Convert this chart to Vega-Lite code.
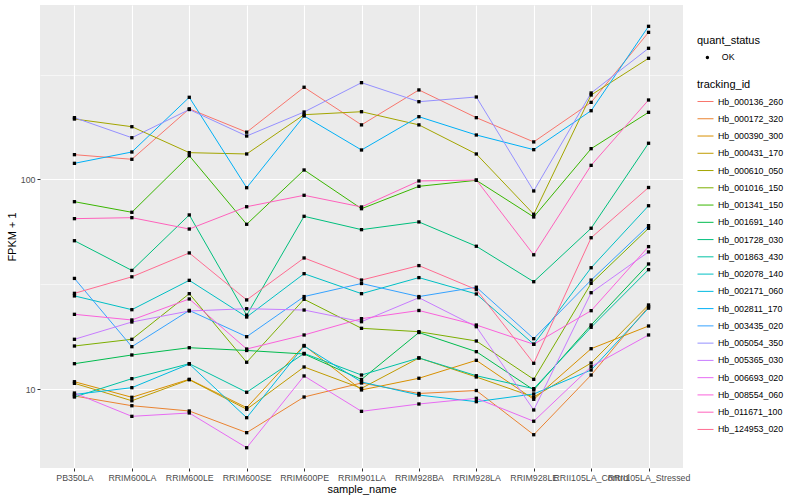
{
  "$schema": "https://vega.github.io/schema/vega-lite/v6.json",
  "width": 643,
  "height": 463,
  "autosize": {"type": "none"},
  "padding": {"left": 40, "top": 5, "right": 117, "bottom": 32},
  "background": "white",
  "config": {
    "view": {"fill": "#EBEBEB", "stroke": null},
    "font": "Liberation Sans",
    "axis": {
      "domain": false,
      "gridColor": "white",
      "tickColor": "#333333",
      "tickSize": 3,
      "tickWidth": 1,
      "labelColor": "#4D4D4D",
      "labelFontSize": 8.8,
      "labelFont": "Liberation Sans",
      "titleFont": "Liberation Sans",
      "titleFontSize": 11,
      "titleFontWeight": "normal",
      "titleColor": "black"
    },
    "legend": {
      "titleFont": "Liberation Sans",
      "titleFontSize": 11,
      "titleFontWeight": "normal",
      "titleColor": "black",
      "labelFont": "Liberation Sans",
      "labelFontSize": 8.8,
      "labelColor": "black"
    }
  },
  "data": {"values": [
    {"tracking_id":"Hb_000136_260","sample_name":"PB350LA","fpkm":131.3,"quant_status":"OK"},
    {"tracking_id":"Hb_000136_260","sample_name":"RRIM600LA","fpkm":124.8,"quant_status":"OK"},
    {"tracking_id":"Hb_000136_260","sample_name":"RRIM600LE","fpkm":217,"quant_status":"OK"},
    {"tracking_id":"Hb_000136_260","sample_name":"RRIM600SE","fpkm":168,"quant_status":"OK"},
    {"tracking_id":"Hb_000136_260","sample_name":"RRIM600PE","fpkm":275,"quant_status":"OK"},
    {"tracking_id":"Hb_000136_260","sample_name":"RRIM901LA","fpkm":182,"quant_status":"OK"},
    {"tracking_id":"Hb_000136_260","sample_name":"RRIM928BA","fpkm":267,"quant_status":"OK"},
    {"tracking_id":"Hb_000136_260","sample_name":"RRIM928LA","fpkm":197,"quant_status":"OK"},
    {"tracking_id":"Hb_000136_260","sample_name":"RRIM928LE","fpkm":151,"quant_status":"OK"},
    {"tracking_id":"Hb_000136_260","sample_name":"RRII105LA_Control","fpkm":233,"quant_status":"OK"},
    {"tracking_id":"Hb_000136_260","sample_name":"RRII105LA_Stressed","fpkm":502,"quant_status":"OK"},
    {"tracking_id":"Hb_000172_320","sample_name":"PB350LA","fpkm":9.31,"quant_status":"OK"},
    {"tracking_id":"Hb_000172_320","sample_name":"RRIM600LA","fpkm":8.37,"quant_status":"OK"},
    {"tracking_id":"Hb_000172_320","sample_name":"RRIM600LE","fpkm":7.9,"quant_status":"OK"},
    {"tracking_id":"Hb_000172_320","sample_name":"RRIM600SE","fpkm":6.23,"quant_status":"OK"},
    {"tracking_id":"Hb_000172_320","sample_name":"RRIM600PE","fpkm":9.21,"quant_status":"OK"},
    {"tracking_id":"Hb_000172_320","sample_name":"RRIM901LA","fpkm":10.74,"quant_status":"OK"},
    {"tracking_id":"Hb_000172_320","sample_name":"RRIM928BA","fpkm":9.57,"quant_status":"OK"},
    {"tracking_id":"Hb_000172_320","sample_name":"RRIM928LA","fpkm":9.89,"quant_status":"OK"},
    {"tracking_id":"Hb_000172_320","sample_name":"RRIM928LE","fpkm":6.09,"quant_status":"OK"},
    {"tracking_id":"Hb_000172_320","sample_name":"RRII105LA_Control","fpkm":11.72,"quant_status":"OK"},
    {"tracking_id":"Hb_000172_320","sample_name":"RRII105LA_Stressed","fpkm":24.8,"quant_status":"OK"},
    {"tracking_id":"Hb_000390_300","sample_name":"PB350LA","fpkm":10.89,"quant_status":"OK"},
    {"tracking_id":"Hb_000390_300","sample_name":"RRIM600LA","fpkm":9.18,"quant_status":"OK"},
    {"tracking_id":"Hb_000390_300","sample_name":"RRIM600LE","fpkm":11.18,"quant_status":"OK"},
    {"tracking_id":"Hb_000390_300","sample_name":"RRIM600SE","fpkm":8.19,"quant_status":"OK"},
    {"tracking_id":"Hb_000390_300","sample_name":"RRIM600PE","fpkm":16.2,"quant_status":"OK"},
    {"tracking_id":"Hb_000390_300","sample_name":"RRIM901LA","fpkm":9.95,"quant_status":"OK"},
    {"tracking_id":"Hb_000390_300","sample_name":"RRIM928BA","fpkm":11.31,"quant_status":"OK"},
    {"tracking_id":"Hb_000390_300","sample_name":"RRIM928LA","fpkm":13.77,"quant_status":"OK"},
    {"tracking_id":"Hb_000390_300","sample_name":"RRIM928LE","fpkm":8.98,"quant_status":"OK"},
    {"tracking_id":"Hb_000390_300","sample_name":"RRII105LA_Control","fpkm":15.64,"quant_status":"OK"},
    {"tracking_id":"Hb_000390_300","sample_name":"RRII105LA_Stressed","fpkm":20.06,"quant_status":"OK"},
    {"tracking_id":"Hb_000431_170","sample_name":"PB350LA","fpkm":10.7,"quant_status":"OK"},
    {"tracking_id":"Hb_000431_170","sample_name":"RRIM600LA","fpkm":8.84,"quant_status":"OK"},
    {"tracking_id":"Hb_000431_170","sample_name":"RRIM600LE","fpkm":11.13,"quant_status":"OK"},
    {"tracking_id":"Hb_000431_170","sample_name":"RRIM600SE","fpkm":8.05,"quant_status":"OK"},
    {"tracking_id":"Hb_000431_170","sample_name":"RRIM600PE","fpkm":12.8,"quant_status":"OK"},
    {"tracking_id":"Hb_000431_170","sample_name":"RRIM901LA","fpkm":10.13,"quant_status":"OK"},
    {"tracking_id":"Hb_000431_170","sample_name":"RRIM928BA","fpkm":14.13,"quant_status":"OK"},
    {"tracking_id":"Hb_000431_170","sample_name":"RRIM928LA","fpkm":11.47,"quant_status":"OK"},
    {"tracking_id":"Hb_000431_170","sample_name":"RRIM928LE","fpkm":9.21,"quant_status":"OK"},
    {"tracking_id":"Hb_000431_170","sample_name":"RRII105LA_Control","fpkm":13.37,"quant_status":"OK"},
    {"tracking_id":"Hb_000431_170","sample_name":"RRII105LA_Stressed","fpkm":25.26,"quant_status":"OK"},
    {"tracking_id":"Hb_000610_050","sample_name":"PB350LA","fpkm":194.1,"quant_status":"OK"},
    {"tracking_id":"Hb_000610_050","sample_name":"RRIM600LA","fpkm":178.4,"quant_status":"OK"},
    {"tracking_id":"Hb_000610_050","sample_name":"RRIM600LE","fpkm":134.2,"quant_status":"OK"},
    {"tracking_id":"Hb_000610_050","sample_name":"RRIM600SE","fpkm":132.3,"quant_status":"OK"},
    {"tracking_id":"Hb_000610_050","sample_name":"RRIM600PE","fpkm":203.5,"quant_status":"OK"},
    {"tracking_id":"Hb_000610_050","sample_name":"RRIM901LA","fpkm":210.3,"quant_status":"OK"},
    {"tracking_id":"Hb_000610_050","sample_name":"RRIM928BA","fpkm":182,"quant_status":"OK"},
    {"tracking_id":"Hb_000610_050","sample_name":"RRIM928LA","fpkm":132.3,"quant_status":"OK"},
    {"tracking_id":"Hb_000610_050","sample_name":"RRIM928LE","fpkm":68.3,"quant_status":"OK"},
    {"tracking_id":"Hb_000610_050","sample_name":"RRII105LA_Control","fpkm":252.6,"quant_status":"OK"},
    {"tracking_id":"Hb_000610_050","sample_name":"RRII105LA_Stressed","fpkm":377.7,"quant_status":"OK"},
    {"tracking_id":"Hb_001016_150","sample_name":"PB350LA","fpkm":16.11,"quant_status":"OK"},
    {"tracking_id":"Hb_001016_150","sample_name":"RRIM600LA","fpkm":17.34,"quant_status":"OK"},
    {"tracking_id":"Hb_001016_150","sample_name":"RRIM600LE","fpkm":28.59,"quant_status":"OK"},
    {"tracking_id":"Hb_001016_150","sample_name":"RRIM600SE","fpkm":13.48,"quant_status":"OK"},
    {"tracking_id":"Hb_001016_150","sample_name":"RRIM600PE","fpkm":26.89,"quant_status":"OK"},
    {"tracking_id":"Hb_001016_150","sample_name":"RRIM901LA","fpkm":19.56,"quant_status":"OK"},
    {"tracking_id":"Hb_001016_150","sample_name":"RRIM928BA","fpkm":18.85,"quant_status":"OK"},
    {"tracking_id":"Hb_001016_150","sample_name":"RRIM928LA","fpkm":17.02,"quant_status":"OK"},
    {"tracking_id":"Hb_001016_150","sample_name":"RRIM928LE","fpkm":11.18,"quant_status":"OK"},
    {"tracking_id":"Hb_001016_150","sample_name":"RRII105LA_Control","fpkm":32.04,"quant_status":"OK"},
    {"tracking_id":"Hb_001016_150","sample_name":"RRII105LA_Stressed","fpkm":58.56,"quant_status":"OK"},
    {"tracking_id":"Hb_001341_150","sample_name":"PB350LA","fpkm":78.4,"quant_status":"OK"},
    {"tracking_id":"Hb_001341_150","sample_name":"RRIM600LA","fpkm":69.8,"quant_status":"OK"},
    {"tracking_id":"Hb_001341_150","sample_name":"RRIM600LE","fpkm":129.8,"quant_status":"OK"},
    {"tracking_id":"Hb_001341_150","sample_name":"RRIM600SE","fpkm":61.2,"quant_status":"OK"},
    {"tracking_id":"Hb_001341_150","sample_name":"RRIM600PE","fpkm":111,"quant_status":"OK"},
    {"tracking_id":"Hb_001341_150","sample_name":"RRIM901LA","fpkm":72.6,"quant_status":"OK"},
    {"tracking_id":"Hb_001341_150","sample_name":"RRIM928BA","fpkm":92.8,"quant_status":"OK"},
    {"tracking_id":"Hb_001341_150","sample_name":"RRIM928LA","fpkm":99.1,"quant_status":"OK"},
    {"tracking_id":"Hb_001341_150","sample_name":"RRIM928LE","fpkm":66.3,"quant_status":"OK"},
    {"tracking_id":"Hb_001341_150","sample_name":"RRII105LA_Control","fpkm":140.2,"quant_status":"OK"},
    {"tracking_id":"Hb_001341_150","sample_name":"RRII105LA_Stressed","fpkm":208.9,"quant_status":"OK"},
    {"tracking_id":"Hb_001691_140","sample_name":"PB350LA","fpkm":13.27,"quant_status":"OK"},
    {"tracking_id":"Hb_001691_140","sample_name":"RRIM600LA","fpkm":14.6,"quant_status":"OK"},
    {"tracking_id":"Hb_001691_140","sample_name":"RRIM600LE","fpkm":15.81,"quant_status":"OK"},
    {"tracking_id":"Hb_001691_140","sample_name":"RRIM600SE","fpkm":15.34,"quant_status":"OK"},
    {"tracking_id":"Hb_001691_140","sample_name":"RRIM600PE","fpkm":14.76,"quant_status":"OK"},
    {"tracking_id":"Hb_001691_140","sample_name":"RRIM901LA","fpkm":11.16,"quant_status":"OK"},
    {"tracking_id":"Hb_001691_140","sample_name":"RRIM928BA","fpkm":18.68,"quant_status":"OK"},
    {"tracking_id":"Hb_001691_140","sample_name":"RRIM928LA","fpkm":15.14,"quant_status":"OK"},
    {"tracking_id":"Hb_001691_140","sample_name":"RRIM928LE","fpkm":9.95,"quant_status":"OK"},
    {"tracking_id":"Hb_001691_140","sample_name":"RRII105LA_Control","fpkm":20.28,"quant_status":"OK"},
    {"tracking_id":"Hb_001691_140","sample_name":"RRII105LA_Stressed","fpkm":39.6,"quant_status":"OK"},
    {"tracking_id":"Hb_001728_030","sample_name":"PB350LA","fpkm":51.1,"quant_status":"OK"},
    {"tracking_id":"Hb_001728_030","sample_name":"RRIM600LA","fpkm":36.9,"quant_status":"OK"},
    {"tracking_id":"Hb_001728_030","sample_name":"RRIM600LE","fpkm":67.8,"quant_status":"OK"},
    {"tracking_id":"Hb_001728_030","sample_name":"RRIM600SE","fpkm":22.6,"quant_status":"OK"},
    {"tracking_id":"Hb_001728_030","sample_name":"RRIM600PE","fpkm":66.8,"quant_status":"OK"},
    {"tracking_id":"Hb_001728_030","sample_name":"RRIM901LA","fpkm":57.7,"quant_status":"OK"},
    {"tracking_id":"Hb_001728_030","sample_name":"RRIM928BA","fpkm":62.8,"quant_status":"OK"},
    {"tracking_id":"Hb_001728_030","sample_name":"RRIM928LA","fpkm":48.1,"quant_status":"OK"},
    {"tracking_id":"Hb_001728_030","sample_name":"RRIM928LE","fpkm":32.6,"quant_status":"OK"},
    {"tracking_id":"Hb_001728_030","sample_name":"RRII105LA_Control","fpkm":58.6,"quant_status":"OK"},
    {"tracking_id":"Hb_001728_030","sample_name":"RRII105LA_Stressed","fpkm":148.8,"quant_status":"OK"},
    {"tracking_id":"Hb_001863_430","sample_name":"PB350LA","fpkm":9.21,"quant_status":"OK"},
    {"tracking_id":"Hb_001863_430","sample_name":"RRIM600LA","fpkm":11.26,"quant_status":"OK"},
    {"tracking_id":"Hb_001863_430","sample_name":"RRIM600LE","fpkm":13.27,"quant_status":"OK"},
    {"tracking_id":"Hb_001863_430","sample_name":"RRIM600SE","fpkm":9.7,"quant_status":"OK"},
    {"tracking_id":"Hb_001863_430","sample_name":"RRIM600PE","fpkm":14.85,"quant_status":"OK"},
    {"tracking_id":"Hb_001863_430","sample_name":"RRIM901LA","fpkm":11.72,"quant_status":"OK"},
    {"tracking_id":"Hb_001863_430","sample_name":"RRIM928BA","fpkm":14.13,"quant_status":"OK"},
    {"tracking_id":"Hb_001863_430","sample_name":"RRIM928LA","fpkm":11.63,"quant_status":"OK"},
    {"tracking_id":"Hb_001863_430","sample_name":"RRIM928LE","fpkm":10.09,"quant_status":"OK"},
    {"tracking_id":"Hb_001863_430","sample_name":"RRII105LA_Control","fpkm":19.78,"quant_status":"OK"},
    {"tracking_id":"Hb_001863_430","sample_name":"RRII105LA_Stressed","fpkm":37.2,"quant_status":"OK"},
    {"tracking_id":"Hb_002078_140","sample_name":"PB350LA","fpkm":27.9,"quant_status":"OK"},
    {"tracking_id":"Hb_002078_140","sample_name":"RRIM600LA","fpkm":23.99,"quant_status":"OK"},
    {"tracking_id":"Hb_002078_140","sample_name":"RRIM600LE","fpkm":33.1,"quant_status":"OK"},
    {"tracking_id":"Hb_002078_140","sample_name":"RRIM600SE","fpkm":22.14,"quant_status":"OK"},
    {"tracking_id":"Hb_002078_140","sample_name":"RRIM600PE","fpkm":35.6,"quant_status":"OK"},
    {"tracking_id":"Hb_002078_140","sample_name":"RRIM901LA","fpkm":28.6,"quant_status":"OK"},
    {"tracking_id":"Hb_002078_140","sample_name":"RRIM928BA","fpkm":34.1,"quant_status":"OK"},
    {"tracking_id":"Hb_002078_140","sample_name":"RRIM928LA","fpkm":28.5,"quant_status":"OK"},
    {"tracking_id":"Hb_002078_140","sample_name":"RRIM928LE","fpkm":16.42,"quant_status":"OK"},
    {"tracking_id":"Hb_002078_140","sample_name":"RRII105LA_Control","fpkm":38.0,"quant_status":"OK"},
    {"tracking_id":"Hb_002078_140","sample_name":"RRII105LA_Stressed","fpkm":75.0,"quant_status":"OK"},
    {"tracking_id":"Hb_002171_060","sample_name":"PB350LA","fpkm":9.47,"quant_status":"OK"},
    {"tracking_id":"Hb_002171_060","sample_name":"RRIM600LA","fpkm":10.2,"quant_status":"OK"},
    {"tracking_id":"Hb_002171_060","sample_name":"RRIM600LE","fpkm":13.22,"quant_status":"OK"},
    {"tracking_id":"Hb_002171_060","sample_name":"RRIM600SE","fpkm":7.34,"quant_status":"OK"},
    {"tracking_id":"Hb_002171_060","sample_name":"RRIM600PE","fpkm":16.1,"quant_status":"OK"},
    {"tracking_id":"Hb_002171_060","sample_name":"RRIM901LA","fpkm":10.86,"quant_status":"OK"},
    {"tracking_id":"Hb_002171_060","sample_name":"RRIM928BA","fpkm":9.41,"quant_status":"OK"},
    {"tracking_id":"Hb_002171_060","sample_name":"RRIM928LA","fpkm":8.75,"quant_status":"OK"},
    {"tracking_id":"Hb_002171_060","sample_name":"RRIM928LE","fpkm":9.52,"quant_status":"OK"},
    {"tracking_id":"Hb_002171_060","sample_name":"RRII105LA_Control","fpkm":12.38,"quant_status":"OK"},
    {"tracking_id":"Hb_002171_060","sample_name":"RRII105LA_Stressed","fpkm":24.4,"quant_status":"OK"},
    {"tracking_id":"Hb_002811_170","sample_name":"PB350LA","fpkm":119.4,"quant_status":"OK"},
    {"tracking_id":"Hb_002811_170","sample_name":"RRIM600LA","fpkm":135.2,"quant_status":"OK"},
    {"tracking_id":"Hb_002811_170","sample_name":"RRIM600LE","fpkm":246.3,"quant_status":"OK"},
    {"tracking_id":"Hb_002811_170","sample_name":"RRIM600SE","fpkm":91.4,"quant_status":"OK"},
    {"tracking_id":"Hb_002811_170","sample_name":"RRIM600PE","fpkm":200.7,"quant_status":"OK"},
    {"tracking_id":"Hb_002811_170","sample_name":"RRIM901LA","fpkm":138.2,"quant_status":"OK"},
    {"tracking_id":"Hb_002811_170","sample_name":"RRIM928BA","fpkm":199.1,"quant_status":"OK"},
    {"tracking_id":"Hb_002811_170","sample_name":"RRIM928LA","fpkm":162.9,"quant_status":"OK"},
    {"tracking_id":"Hb_002811_170","sample_name":"RRIM928LE","fpkm":138.7,"quant_status":"OK"},
    {"tracking_id":"Hb_002811_170","sample_name":"RRII105LA_Control","fpkm":212.6,"quant_status":"OK"},
    {"tracking_id":"Hb_002811_170","sample_name":"RRII105LA_Stressed","fpkm":536.4,"quant_status":"OK"},
    {"tracking_id":"Hb_003435_020","sample_name":"PB350LA","fpkm":33.8,"quant_status":"OK"},
    {"tracking_id":"Hb_003435_020","sample_name":"RRIM600LA","fpkm":15.99,"quant_status":"OK"},
    {"tracking_id":"Hb_003435_020","sample_name":"RRIM600LE","fpkm":23.8,"quant_status":"OK"},
    {"tracking_id":"Hb_003435_020","sample_name":"RRIM600SE","fpkm":17.84,"quant_status":"OK"},
    {"tracking_id":"Hb_003435_020","sample_name":"RRIM600PE","fpkm":27.7,"quant_status":"OK"},
    {"tracking_id":"Hb_003435_020","sample_name":"RRIM901LA","fpkm":31.97,"quant_status":"OK"},
    {"tracking_id":"Hb_003435_020","sample_name":"RRIM928BA","fpkm":27.7,"quant_status":"OK"},
    {"tracking_id":"Hb_003435_020","sample_name":"RRIM928LA","fpkm":30.7,"quant_status":"OK"},
    {"tracking_id":"Hb_003435_020","sample_name":"RRIM928LE","fpkm":17.46,"quant_status":"OK"},
    {"tracking_id":"Hb_003435_020","sample_name":"RRII105LA_Control","fpkm":33.2,"quant_status":"OK"},
    {"tracking_id":"Hb_003435_020","sample_name":"RRII105LA_Stressed","fpkm":60.3,"quant_status":"OK"},
    {"tracking_id":"Hb_005054_350","sample_name":"PB350LA","fpkm":197,"quant_status":"OK"},
    {"tracking_id":"Hb_005054_350","sample_name":"RRIM600LA","fpkm":158.1,"quant_status":"OK"},
    {"tracking_id":"Hb_005054_350","sample_name":"RRIM600LE","fpkm":215.4,"quant_status":"OK"},
    {"tracking_id":"Hb_005054_350","sample_name":"RRIM600SE","fpkm":161.1,"quant_status":"OK"},
    {"tracking_id":"Hb_005054_350","sample_name":"RRIM600PE","fpkm":209.6,"quant_status":"OK"},
    {"tracking_id":"Hb_005054_350","sample_name":"RRIM901LA","fpkm":289.1,"quant_status":"OK"},
    {"tracking_id":"Hb_005054_350","sample_name":"RRIM928BA","fpkm":234.7,"quant_status":"OK"},
    {"tracking_id":"Hb_005054_350","sample_name":"RRIM928LA","fpkm":247.1,"quant_status":"OK"},
    {"tracking_id":"Hb_005054_350","sample_name":"RRIM928LE","fpkm":88.2,"quant_status":"OK"},
    {"tracking_id":"Hb_005054_350","sample_name":"RRII105LA_Control","fpkm":258.2,"quant_status":"OK"},
    {"tracking_id":"Hb_005054_350","sample_name":"RRII105LA_Stressed","fpkm":421.5,"quant_status":"OK"},
    {"tracking_id":"Hb_005365_030","sample_name":"PB350LA","fpkm":17.34,"quant_status":"OK"},
    {"tracking_id":"Hb_005365_030","sample_name":"RRIM600LA","fpkm":20.96,"quant_status":"OK"},
    {"tracking_id":"Hb_005365_030","sample_name":"RRIM600LE","fpkm":23.65,"quant_status":"OK"},
    {"tracking_id":"Hb_005365_030","sample_name":"RRIM600SE","fpkm":24.25,"quant_status":"OK"},
    {"tracking_id":"Hb_005365_030","sample_name":"RRIM600PE","fpkm":23.9,"quant_status":"OK"},
    {"tracking_id":"Hb_005365_030","sample_name":"RRIM901LA","fpkm":21.03,"quant_status":"OK"},
    {"tracking_id":"Hb_005365_030","sample_name":"RRIM928BA","fpkm":27.36,"quant_status":"OK"},
    {"tracking_id":"Hb_005365_030","sample_name":"RRIM928LA","fpkm":19.91,"quant_status":"OK"},
    {"tracking_id":"Hb_005365_030","sample_name":"RRIM928LE","fpkm":7.99,"quant_status":"OK"},
    {"tracking_id":"Hb_005365_030","sample_name":"RRII105LA_Control","fpkm":28.9,"quant_status":"OK"},
    {"tracking_id":"Hb_005365_030","sample_name":"RRII105LA_Stressed","fpkm":45.2,"quant_status":"OK"},
    {"tracking_id":"Hb_006693_020","sample_name":"PB350LA","fpkm":9.62,"quant_status":"OK"},
    {"tracking_id":"Hb_006693_020","sample_name":"RRIM600LA","fpkm":7.45,"quant_status":"OK"},
    {"tracking_id":"Hb_006693_020","sample_name":"RRIM600LE","fpkm":7.73,"quant_status":"OK"},
    {"tracking_id":"Hb_006693_020","sample_name":"RRIM600SE","fpkm":5.28,"quant_status":"OK"},
    {"tracking_id":"Hb_006693_020","sample_name":"RRIM600PE","fpkm":11.6,"quant_status":"OK"},
    {"tracking_id":"Hb_006693_020","sample_name":"RRIM901LA","fpkm":7.87,"quant_status":"OK"},
    {"tracking_id":"Hb_006693_020","sample_name":"RRIM928BA","fpkm":8.53,"quant_status":"OK"},
    {"tracking_id":"Hb_006693_020","sample_name":"RRIM928LA","fpkm":9.08,"quant_status":"OK"},
    {"tracking_id":"Hb_006693_020","sample_name":"RRIM928LE","fpkm":7.06,"quant_status":"OK"},
    {"tracking_id":"Hb_006693_020","sample_name":"RRII105LA_Control","fpkm":12.84,"quant_status":"OK"},
    {"tracking_id":"Hb_006693_020","sample_name":"RRII105LA_Stressed","fpkm":18.18,"quant_status":"OK"},
    {"tracking_id":"Hb_008554_060","sample_name":"PB350LA","fpkm":22.8,"quant_status":"OK"},
    {"tracking_id":"Hb_008554_060","sample_name":"RRIM600LA","fpkm":21.43,"quant_status":"OK"},
    {"tracking_id":"Hb_008554_060","sample_name":"RRIM600LE","fpkm":26.98,"quant_status":"OK"},
    {"tracking_id":"Hb_008554_060","sample_name":"RRIM600SE","fpkm":15.59,"quant_status":"OK"},
    {"tracking_id":"Hb_008554_060","sample_name":"RRIM600PE","fpkm":18.18,"quant_status":"OK"},
    {"tracking_id":"Hb_008554_060","sample_name":"RRIM901LA","fpkm":21.74,"quant_status":"OK"},
    {"tracking_id":"Hb_008554_060","sample_name":"RRIM928BA","fpkm":23.78,"quant_status":"OK"},
    {"tracking_id":"Hb_008554_060","sample_name":"RRIM928LA","fpkm":20.28,"quant_status":"OK"},
    {"tracking_id":"Hb_008554_060","sample_name":"RRIM928LE","fpkm":16.42,"quant_status":"OK"},
    {"tracking_id":"Hb_008554_060","sample_name":"RRII105LA_Control","fpkm":23.73,"quant_status":"OK"},
    {"tracking_id":"Hb_008554_060","sample_name":"RRII105LA_Stressed","fpkm":47.9,"quant_status":"OK"},
    {"tracking_id":"Hb_011671_100","sample_name":"PB350LA","fpkm":65.1,"quant_status":"OK"},
    {"tracking_id":"Hb_011671_100","sample_name":"RRIM600LA","fpkm":65.8,"quant_status":"OK"},
    {"tracking_id":"Hb_011671_100","sample_name":"RRIM600LE","fpkm":58.1,"quant_status":"OK"},
    {"tracking_id":"Hb_011671_100","sample_name":"RRIM600SE","fpkm":74.2,"quant_status":"OK"},
    {"tracking_id":"Hb_011671_100","sample_name":"RRIM600PE","fpkm":84.1,"quant_status":"OK"},
    {"tracking_id":"Hb_011671_100","sample_name":"RRIM901LA","fpkm":74.0,"quant_status":"OK"},
    {"tracking_id":"Hb_011671_100","sample_name":"RRIM928BA","fpkm":98.4,"quant_status":"OK"},
    {"tracking_id":"Hb_011671_100","sample_name":"RRIM928LA","fpkm":99.5,"quant_status":"OK"},
    {"tracking_id":"Hb_011671_100","sample_name":"RRIM928LE","fpkm":43.8,"quant_status":"OK"},
    {"tracking_id":"Hb_011671_100","sample_name":"RRII105LA_Control","fpkm":116.8,"quant_status":"OK"},
    {"tracking_id":"Hb_011671_100","sample_name":"RRII105LA_Stressed","fpkm":239.1,"quant_status":"OK"},
    {"tracking_id":"Hb_124953_020","sample_name":"PB350LA","fpkm":28.7,"quant_status":"OK"},
    {"tracking_id":"Hb_124953_020","sample_name":"RRIM600LA","fpkm":34.4,"quant_status":"OK"},
    {"tracking_id":"Hb_124953_020","sample_name":"RRIM600LE","fpkm":44.7,"quant_status":"OK"},
    {"tracking_id":"Hb_124953_020","sample_name":"RRIM600SE","fpkm":26.7,"quant_status":"OK"},
    {"tracking_id":"Hb_124953_020","sample_name":"RRIM600PE","fpkm":42.3,"quant_status":"OK"},
    {"tracking_id":"Hb_124953_020","sample_name":"RRIM901LA","fpkm":33.2,"quant_status":"OK"},
    {"tracking_id":"Hb_124953_020","sample_name":"RRIM928BA","fpkm":38.9,"quant_status":"OK"},
    {"tracking_id":"Hb_124953_020","sample_name":"RRIM928LA","fpkm":29.9,"quant_status":"OK"},
    {"tracking_id":"Hb_124953_020","sample_name":"RRIM928LE","fpkm":13.33,"quant_status":"OK"},
    {"tracking_id":"Hb_124953_020","sample_name":"RRII105LA_Control","fpkm":52.8,"quant_status":"OK"},
    {"tracking_id":"Hb_124953_020","sample_name":"RRII105LA_Stressed","fpkm":91.6,"quant_status":"OK"}
  ]},
  "encoding": {
    "x": {
      "field": "sample_name",
      "type": "nominal",
      "sort": ["PB350LA","RRIM600LA","RRIM600LE","RRIM600SE","RRIM600PE","RRIM901LA","RRIM928BA","RRIM928LA","RRIM928LE","RRII105LA_Control","RRII105LA_Stressed"],
      "scale": {"type": "point", "padding": 0.6},
      "axis": {
        "title": "sample_name",
        "labelAngle": 0,
        "labelOverlap": false,
        "labelBound": false,
        "labelPadding": 2,
        "titlePadding": 2,
        "grid": true,
        "gridWidth": 1.1
      }
    },
    "y": {
      "field": "fpkm",
      "type": "quantitative",
      "scale": {"type": "log", "domain": [4.228, 677.6], "nice": false},
      "axis": {
        "title": "FPKM + 1",
        "values": [10, 31.6228, 100, 316.228],
        "labelExpr": "datum.value == 10 ? '10' : (datum.value == 100 ? '100' : '')",
        "gridWidth": {"condition": {"test": "datum.value == 10 || datum.value == 100", "value": 1.1}, "value": 0.55},
        "tickOpacity": {"condition": {"test": "datum.value == 10 || datum.value == 100", "value": 1}, "value": 0},
        "labelPadding": 2,
        "titlePadding": 3
      }
    }
  },
  "layer": [
    {
      "mark": {"type": "line", "strokeWidth": 1},
      "encoding": {
        "stroke": {
          "field": "tracking_id",
          "type": "nominal",
          "scale": {
            "domain": ["Hb_000136_260","Hb_000172_320","Hb_000390_300","Hb_000431_170","Hb_000610_050","Hb_001016_150","Hb_001341_150","Hb_001691_140","Hb_001728_030","Hb_001863_430","Hb_002078_140","Hb_002171_060","Hb_002811_170","Hb_003435_020","Hb_005054_350","Hb_005365_030","Hb_006693_020","Hb_008554_060","Hb_011671_100","Hb_124953_020"],
            "range": ["#F8766D","#EA8331","#D89000","#C09B00","#A3A500","#7CAE00","#39B600","#00BB4E","#00BF7D","#00C1A3","#00BFC4","#00BAE0","#00B0F6","#35A2FF","#9590FF","#C77CFF","#E76BF3","#FA62DB","#FF62BC","#FF6C91"]
          },
          "legend": {
            "title": "tracking_id",
            "orient": "none",
            "legendX": 657,
            "legendY": 74,
            "symbolType": "stroke",
            "symbolSize": 256,
            "symbolStrokeWidth": 1,
            "rowPadding": 3.26,
            "labelOffset": 4,
            "titlePadding": 3
          }
        }
      }
    },
    {
      "mark": {"type": "point", "filled": true, "shape": "square", "size": 11, "opacity": 1},
      "encoding": {
        "fill": {
          "field": "quant_status",
          "type": "nominal",
          "scale": {"domain": ["OK"], "range": ["black"]},
          "legend": {
            "title": "quant_status",
            "orient": "none",
            "legendX": 657,
            "legendY": 30,
            "symbolType": "circle",
            "symbolSize": 12,
            "symbolOffset": 6,
            "labelOffset": 10,
            "titlePadding": 7
          }
        }
      }
    }
  ]
}
